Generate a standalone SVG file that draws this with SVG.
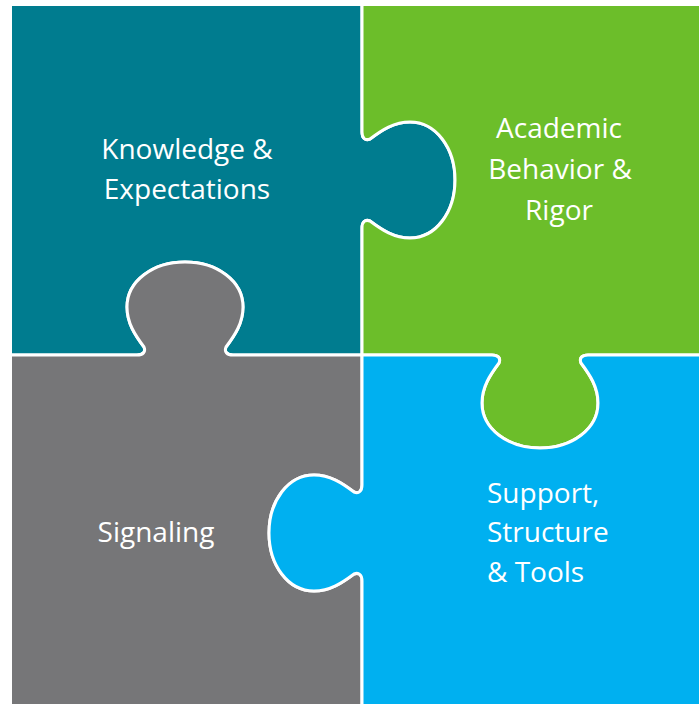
<svg xmlns="http://www.w3.org/2000/svg" width="699" height="704" viewBox="0 0 699 704">
<style>
.piece{stroke:#FFFFFF;stroke-width:3;stroke-linejoin:round}
.lbl{font-family:"Open Sans","Liberation Sans",sans-serif;font-size:28px;fill:#FFFFFF}
.mid{text-anchor:middle}
</style>
<rect x="0" y="0" width="699" height="704" fill="#FFFFFF"/>
<g id="connectors"></g>
<g id="knowledge">
<path class="piece" fill="#007C8F" d="M10.5,4.5 H362 V132 C362,138 365,141 370,139 C382,130 394,122 410,122 C436,122 455,148 455,180 C455,212 436,238 410,238 C394,238 382,230 370,221 C365,219 362,222 362,228 V355 H233 C227,355 224,352 226,347 C235,335 243,323 243,307 C243,281 217,262 185,262 C153,262 127,281 127,307 C127,323 135,335 144,347 C146,352 143,355 137,355 H10.5 Z"/>
<text class="lbl mid" x="187" y="159">Knowledge &amp;</text>
<text class="lbl mid" x="187" y="199">Expectations</text>
</g>
<g id="academic">
<path class="piece" fill="#6CBE2A" d="M362,4.5 H702 V355 H588 C582,355 579,358 581,363 C590,375 598,387 598,403 C598,429 572,448 540,448 C508,448 482,429 482,403 C482,387 490,375 499,363 C501,358 498,355 492,355 H362 V228 C362,222 365,219 370,221 C382,230 394,238 410,238 C436,238 455,212 455,180 C455,148 436,122 410,122 C394,122 382,130 370,139 C365,141 362,138 362,132 V4.5 Z"/>
<text class="lbl mid" x="559" y="138">Academic</text>
<text class="lbl mid" x="560" y="179">Behavior &amp;</text>
<text class="lbl mid" x="559" y="220">Rigor</text>
</g>
<g id="signaling">
<path class="piece" fill="#767678" d="M10.5,355 H137 C143,355 146,352 144,347 C135,335 127,323 127,307 C127,281 153,262 185,262 C217,262 243,281 243,307 C243,323 235,335 226,347 C224,352 227,355 233,355 H362 V485 C362,491 359,494 354,492 C342,483 330,475 314,475 C288,475 269,501 269,533 C269,565 288,591 314,591 C330,591 342,583 354,574 C359,572 362,575 362,581 V707 H10.5 Z"/>
<text class="lbl mid" x="156" y="542">Signaling</text>
</g>
<g id="support">
<path class="piece" fill="#00B0F0" d="M362,355 H492 C498,355 501,358 499,363 C490,375 482,387 482,403 C482,429 508,448 540,448 C572,448 598,429 598,403 C598,387 590,375 581,363 C579,358 582,355 588,355 H702 V707 H362 V581 C362,575 359,572 354,574 C342,583 330,591 314,591 C288,591 269,565 269,533 C269,501 288,475 314,475 C330,475 342,483 354,492 C359,494 362,491 362,485 V355 Z"/>
<text class="lbl" x="487" y="503">Support,</text>
<text class="lbl" x="487" y="542">Structure</text>
<text class="lbl" x="487" y="582">&amp; Tools</text>
</g>
</svg>
